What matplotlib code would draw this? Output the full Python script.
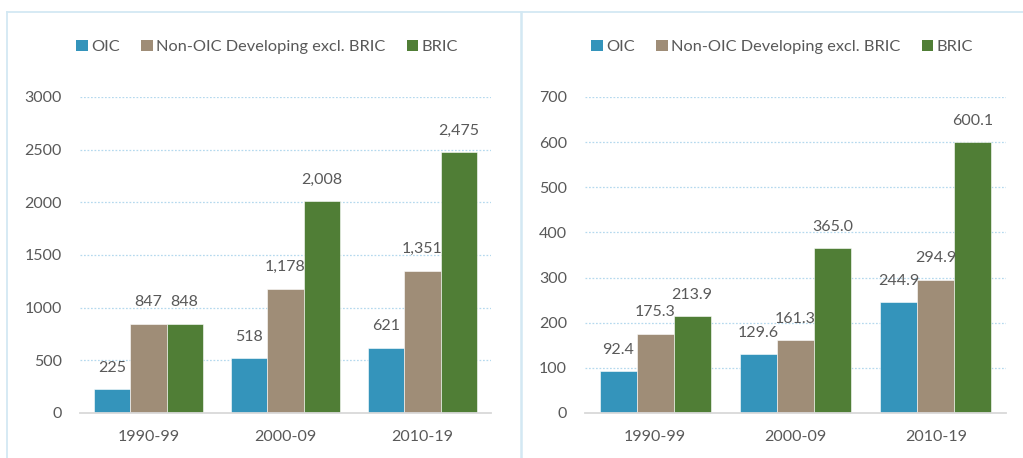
import matplotlib
matplotlib.use("Agg")
import matplotlib.pyplot as plt
from matplotlib.patches import Patch
from matplotlib.lines import Line2D
import numpy as np

plt.rcParams['font.family'] = ['Lato', 'DejaVu Sans']

categories = ["1990-99", "2000-09", "2010-19"]
series_names = ["OIC", "Non-OIC Developing excl. BRIC", "BRIC"]
colors = ["#3494BB", "#9F8D77", "#507E36"]

left_oic = [225, 518, 621]
left_non_oic = [847, 1178, 1351]
left_bric = [848, 2008, 2475]
left_ticks = [0, 500, 1000, 1500, 2000, 2500, 3000]

right_oic = [92.4, 129.6, 244.9]
right_non_oic = [175.3, 161.3, 294.9]
right_bric = [213.9, 365.0, 600.1]
right_ticks = [0, 100, 200, 300, 400, 500, 600, 700]

TXT = "#595959"
GRID = "#B5D9EE"
FS = 11.5
LFS = 11.8

fig = plt.figure(figsize=(10.23, 4.58), dpi=100)
W, H = 1023, 458

def fx(px):
    return px / W

def fy(py):
    return 1 - py / H

# panel borders
border = "#D3E8F3"
fig.add_artist(Line2D([fx(7), fx(7)], [fy(12), fy(458)], color=border, lw=1.3))
fig.add_artist(Line2D([fx(7), 1], [fy(12), fy(12)], color=border, lw=1.3))
fig.add_artist(Line2D([fx(521), fx(521)], [fy(12), fy(458)], color=border, lw=1.8))

def panel(rect, series, ticks, fmt):
    ax = fig.add_axes(rect)
    x = np.arange(len(categories))
    bw = 0.263
    for i, (vals, col) in enumerate(zip(series, colors)):
        pos = x + (i - 1) * bw
        bars = ax.bar(pos, vals, width=bw, color=col, edgecolor="#ffffff", linewidth=0.4, zorder=3)
        for b, v in zip(bars, vals):
            ax.annotate(fmt(v), (b.get_x() + b.get_width() / 2, v), xytext=(0, 15.5),
                        textcoords="offset points", ha="center", va="center",
                        fontsize=FS, color=TXT, zorder=4)
    ax.set_xlim(-0.5, len(categories) - 0.5)
    ax.set_ylim(0, ticks[-1])
    ax.set_yticks(ticks)
    ax.set_yticklabels([str(t) for t in ticks])
    ax.set_xticks(x)
    ax.set_xticklabels(categories)
    ax.tick_params(axis="both", length=0, labelsize=FS, labelcolor=TXT)
    ax.tick_params(axis="y", pad=13)
    ax.tick_params(axis="x", pad=12.5)
    for s in ["top", "right", "left"]:
        ax.spines[s].set_visible(False)
    ax.spines["bottom"].set_color("#D9D9D9")
    ax.spines["bottom"].set_linewidth(1.3)
    ax.spines["bottom"].set_zorder(5)
    ax.yaxis.grid(True, color=GRID, linestyle=(0, (1.4, 1.4)), linewidth=0.9, zorder=0)
    ax.set_axisbelow(True)
    gl = ax.get_ygridlines()
    gl[0].set_visible(False)
    return ax

ax1 = panel([fx(80), fy(413), fx(491) - fx(80), fy(97) - fy(413)],
            [left_oic, left_non_oic, left_bric], left_ticks, lambda v: f"{v:,}")
ax2 = panel([fx(585), fy(413), fx(1006) - fx(585), fy(97) - fy(413)],
            [right_oic, right_non_oic, right_bric], right_ticks, lambda v: f"{v:.1f}")

handles = [Patch(facecolor=c, edgecolor="none") for c in colors]
for lx in (76, 591):
    fig.legend(handles, series_names, loc="center left", bbox_to_anchor=(fx(lx), fy(47)),
               ncol=3, frameon=False, fontsize=LFS, labelcolor=TXT,
               handlelength=0.72, handleheight=0.72, handletextpad=0.2,
               columnspacing=1.3, borderpad=0, borderaxespad=0)

fig.savefig("out.png", dpi=100, facecolor="white")
